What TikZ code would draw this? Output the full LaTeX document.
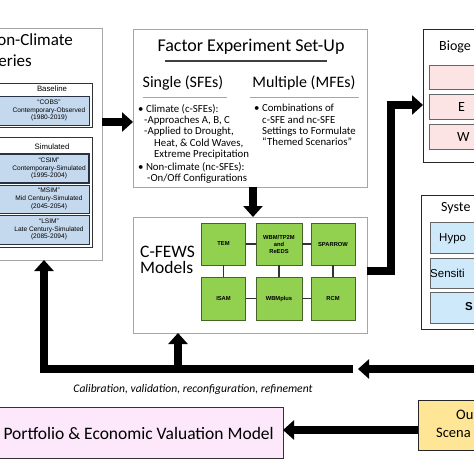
\documentclass[tikz,border=0pt]{standalone}
\usepackage{fontspec}
\setmainfont{Carlito}
\newfontfamily\arialfont{Liberation Sans}
\usetikzlibrary{arrows.meta}
\definecolor{obsblue}{RGB}{197,217,238}
\definecolor{obsline}{RGB}{40,50,70}
\definecolor{modgreen}{RGB}{146,208,80}
\definecolor{modline}{RGB}{70,100,40}
\definecolor{biopink}{RGB}{252,228,228}
\definecolor{sysblue}{RGB}{206,233,250}
\definecolor{portpink}{RGB}{252,232,250}
\definecolor{outyellow}{RGB}{255,230,150}
\tikzset{
  box/.style={draw, outer sep=0pt, inner sep=0pt},
  panel/.style={box, draw=gray!70, line width=0.8pt, fill=white},
  subpanel/.style={box, draw=black!80, line width=0.6pt, fill=white},
  obsbox/.style={box, draw=obsline, line width=0.8pt, fill=obsblue},
  modbox/.style={box, draw=modline, line width=0.6pt, fill=modgreen,
    minimum width=44pt, minimum height=42pt, font=\arialfont\bfseries\fontsize{5.8}{7}\selectfont, align=center},
  smalltxt/.style={font=\arialfont\fontsize{6.6}{7.8}\selectfont, align=center, inner sep=0pt},
  bullets/.style={font=\fontsize{10.8}{11.3}\selectfont, align=left, inner sep=0pt},
  bigarrow/.style={line width=8pt, -{Triangle[width=19pt,length=11pt]}},
  link/.style={line width=1.2pt, black!80}
}
\begin{document}
\begin{tikzpicture}[x=1pt,y=-1pt]
  \useasboundingbox (0,0) rectangle (474,474);
  \fill[white] (0,0) rectangle (474,474);
  \clip (0,0) rectangle (474,474);
  % Left panel: time series
  \node[panel, minimum width=132pt, minimum height=232pt] (series) at (36,144) {};
  \node[anchor=east, font=\fontsize{17}{17}\selectfont, inner sep=0pt] (sertitleA) at (73,40) {on-Climate};
  \node[anchor=east, font=\fontsize{17}{17}\selectfont, inner sep=0pt] (sertitleB) at (32,61) {eries};
  \node[subpanel, minimum width=112pt, minimum height=44pt] (baseline) at (36,105) {};
  \node[smalltxt, font=\arialfont\fontsize{7.8}{8}\selectfont] (basetxt) at (52,89) {Baseline};
  \node[obsbox, minimum width=104pt, minimum height=29pt] (cobs) at (37,110.5) {};
  \node[smalltxt] (cobstxt) at (49,110.5) {“COBS”\\Contemporary-Observed\\(1980-2019)};
  \node[subpanel, minimum width=112pt, minimum height=110pt] (simul) at (36,192) {};
  \node[smalltxt, font=\arialfont\fontsize{7.8}{8}\selectfont] (simtxt) at (52,147) {Simulated};
  \node[obsbox, line width=1.2pt, minimum width=104pt, minimum height=29pt] (csim) at (37,168.5) {};
  \node[smalltxt] (csimtxt) at (49,168.5) {“CSIM”\\Contemporary-Simulated\\(1995-2004)};
  \node[obsbox, minimum width=104pt, minimum height=28pt] (msim) at (37,199) {};
  \node[smalltxt] (msimtxt) at (49,199) {“MSIM”\\Mid Century-Simulated\\(2045-2054)};
  \node[obsbox, minimum width=104pt, minimum height=29pt] (lsim) at (37,229.5) {};
  \node[smalltxt] (lsimtxt) at (49,229.5) {“LSIM”\\Late Century-Simulated\\(2085-2094)};
  % Factor experiment set-up
  \node[panel, minimum width=234pt, minimum height=158pt] (factor) at (250,108) {};
  \node[font=\fontsize{18}{18}\selectfont, inner sep=0pt] (factitle) at (251,47) {Factor Experiment Set-Up};
  \draw[line width=1.6pt, black!75] (165,61) -- (327,61);
  \node[font=\fontsize{16}{16}\selectfont, inner sep=0pt] (single) at (183,83) {Single (SFEs)};
  \node[font=\fontsize{16}{16}\selectfont, inner sep=0pt] (multiple) at (304,83) {Multiple (MFEs)};
  \draw[gray!70, line width=0.6pt] (143,97) -- (227,97);
  \draw[gray!70, line width=0.6pt] (250,97) -- (359,97);
  \node[bullets, anchor=north west] (sfelist) at (138,104) {%
    • Climate (c-SFEs):\\
    \hspace*{6pt}-Approaches A, B, C\\
    \hspace*{6pt}-Applied to Drought,\\
    \hspace*{16pt}Heat, \& Cold Waves,\\
    \hspace*{16pt}Extreme Precipitation\\[1.5pt]
    • Non-climate (nc-SFEs):\\
    \hspace*{9pt}-On/Off Configurations};
  \node[bullets, anchor=north west] (mfelist) at (254,104) {%
    • Combinations of\\
    \hspace*{8pt}c-SFE and nc-SFE\\
    \hspace*{8pt}Settings to Formulate\\
    \hspace*{8pt}“Themed Scenarios”};
  % C-FEWS models
  \node[panel, minimum width=234pt, minimum height=116pt] (cfews) at (250,275) {};
  \node[font=\fontsize{17.5}{16}\selectfont, align=left, inner sep=0pt, anchor=west] (cfewstxt) at (140,260) {C-FEWS\\Models};
  \node[modbox] (tem) at (223.5,244) {TEM};
  \node[modbox, minimum width=46pt] (wbm) at (279,244) {WBM/TP2M\\and\\ReEDS};
  \node[modbox] (sparrow) at (333,244) {SPARROW};
  \node[modbox, minimum height=43pt] (isam) at (223.5,298.5) {ISAM};
  \node[modbox, minimum width=46pt, minimum height=43pt] (wbmplus) at (279,298.5) {WBMplus};
  \node[modbox, minimum height=43pt] (rcm) at (333,298.5) {RCM};
  \draw[link] (tem) -- (wbm);
  \draw[link] (wbm) -- (sparrow);
  \draw[link] (isam) -- (wbmplus);
  \draw[link] (wbmplus) -- (rcm);
  \draw[link] (tem) -- (isam);
  \draw[link] (wbm) -- (wbmplus);
  \draw[link] (sparrow) -- (rcm);
  % Right column (cut at the edge)
  \node[box, draw=black!85, line width=1pt, fill=white, minimum width=80pt, minimum height=133pt] (biogeo) at (463,95.5) {};
  \node[anchor=west, font=\fontsize{14}{14}\selectfont, inner sep=0pt] (biotxt) at (439,47) {Bioge};
  \node[box, draw=gray!80!black, line width=0.8pt, fill=biopink, minimum width=72pt, minimum height=24pt] (bioA) at (465,77) {};
  \node[box, draw=gray!80!black, line width=0.8pt, fill=biopink, minimum width=72pt, minimum height=25pt] (bioB) at (465,107) {};
  \node[box, draw=gray!80!black, line width=0.8pt, fill=biopink, minimum width=72pt, minimum height=25pt] (bioC) at (465,137) {};
  \node[anchor=west, font=\fontsize{14}{14}\selectfont, inner sep=0pt] (bioBtxt) at (458,107) {E};
  \node[anchor=west, font=\fontsize{14}{14}\selectfont, inner sep=0pt] (bioCtxt) at (457,137) {W};
  \node[box, draw=black!85, line width=1pt, fill=white, minimum width=82pt, minimum height=134pt] (system) at (462,262) {};
  \node[anchor=west, font=\fontsize{14}{14}\selectfont, inner sep=0pt] (systxt) at (441,208) {Syste};
  \node[box, draw=gray!80!black, line width=0.8pt, fill=sysblue, minimum width=72pt, minimum height=31pt] (sysA) at (466,237.5) {};
  \node[box, draw=gray!80!black, line width=0.8pt, fill=sysblue, minimum width=72pt, minimum height=30pt] (sysB) at (466,273) {};
  \node[box, draw=gray!80!black, line width=0.8pt, fill=sysblue, minimum width=72pt, minimum height=31pt] (sysC) at (466,307.5) {};
  \node[anchor=west, font=\arialfont\fontsize{11.5}{12}\selectfont, inner sep=0pt] (sysAtxt) at (439,239) {Hypo};
  \node[anchor=west, font=\arialfont\fontsize{11.5}{12}\selectfont, inner sep=0pt] (sysBtxt) at (430,273) {Sensiti};
  \node[anchor=west, font=\arialfont\bfseries\fontsize{11.5}{12}\selectfont, inner sep=0pt] (sysCtxt) at (465,307) {S};
  % Bottom row
  \node[box, draw=black!80, line width=0.8pt, fill=portpink, minimum width=303pt, minimum height=51pt] (portfolio) at (131.5,432.5) {};
  \node[anchor=east, font=\fontsize{17.5}{17.5}\selectfont, inner sep=0pt] (porttxt) at (274,433) {Portfolio \& Economic Valuation Model};
  \node[box, draw=black!85, line width=1pt, fill=outyellow, minimum width=82pt, minimum height=50pt] (outcome) at (459,425) {};
  \node[anchor=west, font=\fontsize{14.5}{14.5}\selectfont, inner sep=0pt] (outAtxt) at (456,415) {Ou};
  \node[anchor=west, font=\fontsize{14.5}{14.5}\selectfont, inner sep=0pt] (outBtxt) at (436,433) {Scena};
  \node[font=\itshape\fontsize{11.6}{11.6}\selectfont, inner sep=0pt] (calib) at (193,389) {Calibration, validation, reconfiguration, refinement};
  % Thick arrows
  \coordinate (loopL) at (44,369);
  \coordinate (loopC) at (178,369);
  \coordinate (loopR) at (353,369);
  \coordinate (feedtip) at (358,369);
  \coordinate (feedin) at (490,369);
  \coordinate (riser) at (391,105);
  \draw[bigarrow] (series.east |- 0,122) -- (factor.west |- 0,122);
  \draw[bigarrow] ([xshift=3pt]factor.south) -- ([xshift=3pt]cfews.north);
  \draw[bigarrow] (cfews.east |- 0,271) -| (riser) -- (riser -| biogeo.west);
  \draw[bigarrow] (feedin) -- (feedtip);
  \draw[bigarrow, line join=miter] (loopR) -- (loopL) -- (loopL |- series.south);
  \draw[bigarrow] (loopC) -- (loopC |- cfews.south);
  \draw[bigarrow] (outcome.west |- 0,430) -- (portfolio.east |- 0,430);
\end{tikzpicture}
\end{document}
